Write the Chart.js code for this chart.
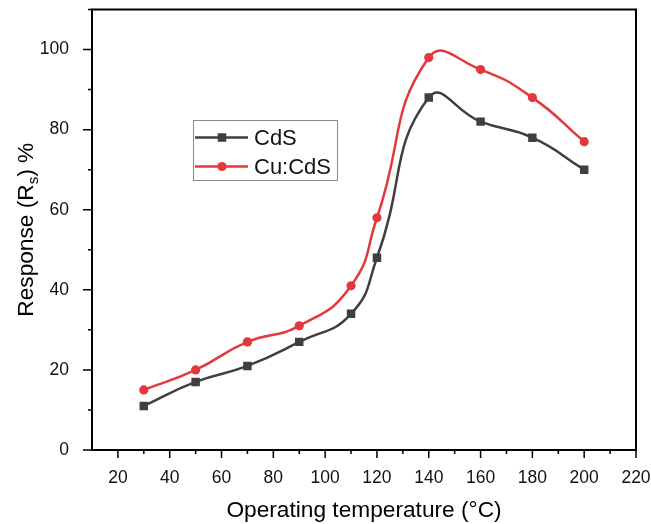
<!DOCTYPE html>
<html>
<head>
<meta charset="utf-8">
<script src="https://cdn.jsdelivr.net/npm/chart.js@4.4.1/dist/chart.umd.min.js"></script>
<style>
  html, body { margin: 0; padding: 0; background: #fff; }
  #wrap { width: 651px; height: 524px; position: relative; }
</style>
</head>
<body>
<div id="wrap"><canvas id="c" width="651" height="524"></canvas></div>
<script>
const temperatures = [30, 50, 70, 90, 110, 120, 140, 160, 180, 200];
const cdsValues = [11, 17, 21, 27, 34, 48, 88, 82, 78, 70];
const cuCdsValues = [15, 20, 27, 31, 41, 58, 98, 95, 88, 77];
const seriesNames = ['CdS', 'Cu:CdS'];
const xTicks = [20, 40, 60, 80, 100, 120, 140, 160, 180, 200, 220];
const yTicks = [0, 20, 40, 60, 80, 100];
const xTitle = 'Operating temperature (°C)';
const yTitleParts = ['Response (R', 's', ') %'];

const FONT = '"Liberation Sans", Arial, sans-serif';
const COL_BLACK = '#3f3f3f';
const COL_RED = '#e5383c';

function pts(vals) { return temperatures.map((t, i) => ({ x: t, y: vals[i] })); }

const decorPlugin = {
  id: 'decor',
  afterDraw(chart) {
    const ctx = chart.ctx;
    const a = chart.chartArea;
    const xs = chart.scales.x, ys = chart.scales.y;
    ctx.save();
    // frame
    ctx.strokeStyle = '#000';
    ctx.lineWidth = 2;
    ctx.strokeRect(a.left, a.top, a.right - a.left, a.bottom - a.top);
    // ticks
    ctx.lineWidth = 1.5;
    ctx.beginPath();
    for (let v = 20; v <= 220; v += 10) {
      const px = xs.getPixelForValue(v);
      const major = (v % 20 === 0);
      ctx.moveTo(px, a.bottom);
      ctx.lineTo(px, a.bottom + (major ? 8 : 4));
    }
    for (let v = 0; v <= 110; v += 10) {
      const py = ys.getPixelForValue(v);
      const major = (v % 20 === 0);
      ctx.moveTo(a.left, py);
      ctx.lineTo(a.left - (major ? 9 : 4), py);
    }
    ctx.stroke();

    // x title
    ctx.fillStyle = '#000';
    ctx.font = '22.7px ' + FONT;
    ctx.textAlign = 'center';
    ctx.textBaseline = 'alphabetic';
    ctx.fillText(xTitle, (a.left + a.right) / 2, 517);

    // y title with subscript
    const big = '22.7px ' + FONT, small = '15px ' + FONT;
    ctx.font = big;
    const w1 = ctx.measureText(yTitleParts[0]).width;
    const w3 = ctx.measureText(yTitleParts[2]).width;
    ctx.font = small;
    const w2 = ctx.measureText(yTitleParts[1]).width;
    const total = w1 + w2 + w3;
    ctx.translate(33, (a.top + a.bottom) / 2);
    ctx.rotate(-Math.PI / 2);
    ctx.textAlign = 'left';
    let x0 = -total / 2;
    ctx.font = big;
    ctx.fillText(yTitleParts[0], x0, 0);
    ctx.font = small;
    ctx.fillText(yTitleParts[1], x0 + w1, 5);
    ctx.font = big;
    ctx.fillText(yTitleParts[2], x0 + w1 + w2, 0);
    ctx.setTransform(1, 0, 0, 1, 0, 0);

    // legend
    const lx = a.left + 101, ly = a.top + 110.5;
    ctx.strokeStyle = '#8a8a8a';
    ctx.lineWidth = 1;
    ctx.strokeRect(lx + 0.5, ly + 0.5, 144, 60);
    const rows = [ly + 17.5, ly + 46.5];
    chart.data.datasets.forEach((ds, i) => {
      const y = rows[i];
      ctx.strokeStyle = ds.borderColor;
      ctx.lineWidth = 2.5;
      ctx.beginPath();
      ctx.moveTo(lx + 2, y);
      ctx.lineTo(lx + 55, y);
      ctx.stroke();
      ctx.fillStyle = ds.pointBackgroundColor;
      if (ds.pointStyle === 'rect') {
        ctx.fillRect(lx + 29 - 4.25, y - 4.25, 8.5, 8.5);
      } else {
        ctx.beginPath();
        ctx.arc(lx + 29, y, 4.6, 0, Math.PI * 2);
        ctx.fill();
      }
      ctx.fillStyle = '#111';
      ctx.font = '22px ' + FONT;
      ctx.textAlign = 'left';
      ctx.textBaseline = 'middle';
      ctx.fillText(ds.label, lx + 61, y + 1);
    });
    ctx.restore();
  }
};

new Chart(document.getElementById('c'), {
  type: 'line',
  data: {
    datasets: [
      {
        label: seriesNames[0],
        data: pts(cdsValues),
        borderColor: COL_BLACK,
        backgroundColor: COL_BLACK,
        pointBackgroundColor: COL_BLACK,
        pointBorderColor: COL_BLACK,
        pointStyle: 'rect',
        pointRadius: 6,
        pointBorderWidth: 0,
        borderWidth: 2.5,
        tension: 0.5,
        fill: false
      },
      {
        label: seriesNames[1],
        data: pts(cuCdsValues),
        borderColor: COL_RED,
        backgroundColor: COL_RED,
        pointBackgroundColor: COL_RED,
        pointBorderColor: COL_RED,
        pointStyle: 'circle',
        pointRadius: 4.6,
        pointBorderWidth: 0,
        borderWidth: 2.5,
        tension: 0.5,
        fill: false
      }
    ]
  },
  options: {
    responsive: false,
    animation: false,
    events: [],
    layout: { autoPadding: false, padding: { top: 9.5, right: 15, left: 0, bottom: 0 } },
    plugins: { legend: { display: false }, tooltip: { enabled: false }, title: { display: false } },
    scales: {
      x: {
        type: 'linear',
        min: 10, max: 220,
        afterFit(s) { s.height = 74; s.paddingLeft = 0; s.paddingRight = 0; s.paddingTop = 0; s.paddingBottom = 0; },
        afterBuildTicks(s) { s.ticks = xTicks.map(v => ({ value: v })); },
        grid: { display: false },
        border: { display: false },
        ticks: { color: '#111', font: { family: FONT, size: 17.5 }, padding: 10, maxRotation: 0, autoSkip: false }
      },
      y: {
        type: 'linear',
        min: 0, max: 110,
        afterFit(s) { s.width = 92; s.paddingLeft = 0; s.paddingRight = 0; s.paddingTop = 0; s.paddingBottom = 0; },
        afterBuildTicks(s) { s.ticks = yTicks.map(v => ({ value: v })); },
        grid: { display: false },
        border: { display: false },
        ticks: { color: '#111', font: { family: FONT, size: 17.5 }, padding: 15 }
      }
    }
  },
  plugins: [decorPlugin]
});
</script>
</body>
</html>
